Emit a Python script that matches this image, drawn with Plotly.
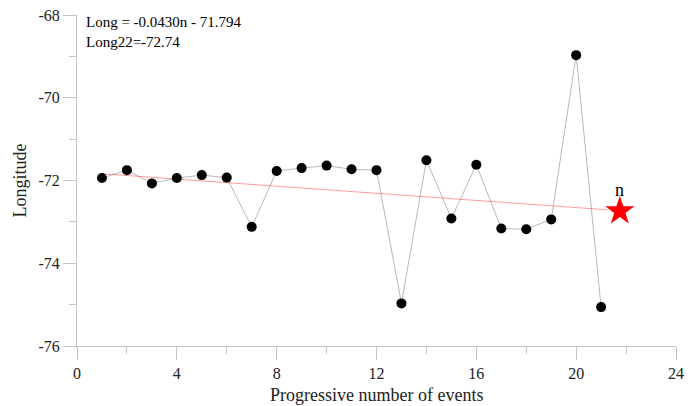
import plotly.graph_objects as go

events = list(range(1, 22))
longitude = [-71.94, -71.75, -72.07, -71.94, -71.87, -71.93, -73.12, -71.77, -71.70, -71.64,
             -71.73, -71.75, -74.97, -71.51, -72.92, -71.62, -73.16, -73.18, -72.94, -68.97, -75.06]

slope = -0.0430
intercept = -71.794
fit_x = [1, 21.25]
fit_y = [slope * v + intercept for v in fit_x]

pred_x = [21.75]
pred_y = [-72.74]

x_ticks = [0, 4, 8, 12, 16, 20, 24]
y_ticks = [-76, -74, -72, -70, -68]
y_tick_text = ["-76", "-74", "-72", "-70", "-68"]

FONT = "Liberation Serif, Times New Roman, serif"
AXIS_COLOR = "#c4c4c4"

fig = go.Figure()
fig.add_trace(go.Scatter(x=events, y=longitude, mode="lines",
                         line=dict(color="#b8b8b8", width=1), showlegend=False, hoverinfo="skip"))
fig.add_trace(go.Scatter(x=fit_x, y=fit_y, mode="lines",
                         line=dict(color="rgba(255,60,60,0.5)", width=1), showlegend=False))
fig.add_trace(go.Scatter(x=events, y=longitude, mode="markers",
                         marker=dict(color="black", size=10), showlegend=False))
fig.add_trace(go.Scatter(x=pred_x, y=pred_y, mode="markers",
                         marker=dict(color="red", size=22, symbol="star", line=dict(width=0)),
                         showlegend=False))

fig.add_annotation(x=pred_x[0], y=pred_y[0], text="n", showarrow=False, yshift=21,
                   font=dict(family=FONT, size=18, color="black"))
fig.add_annotation(xref="paper", yref="paper", x=0.011, y=1.008, xanchor="left", yanchor="top",
                   text="Long = -0.0430n - 71.794<br>Long22=-72.74", showarrow=False, align="left",
                   font=dict(family=FONT, size=15, color="black"))
fig.add_annotation(xref="paper", yref="paper", x=0.5, y=-0.149, xanchor="center", yanchor="middle",
                   text="Progressive number of events", showarrow=False,
                   font=dict(family=FONT, size=18, color="#222"))

fig.update_layout(
    width=691, height=406,
    margin=dict(l=76.5, r=15, t=15, b=60.3, autoexpand=False),
    paper_bgcolor="white", plot_bgcolor="white",
    font=dict(family=FONT, size=16, color="#222"),
    xaxis=dict(range=[0, 24], tickmode="array", tickvals=x_ticks, showgrid=False, zeroline=False,
               automargin=False,
               showline=True, linecolor=AXIS_COLOR, linewidth=1, ticks="outside", ticklen=13,
               tickcolor=AXIS_COLOR, tickfont=dict(family=FONT, size=16),
               minor=dict(dtick=2, tick0=0, ticks="outside", ticklen=7, tickcolor=AXIS_COLOR)),
    yaxis=dict(range=[-76, -68], tickmode="array", tickvals=y_ticks, ticktext=y_tick_text,
               showgrid=False, zeroline=False, automargin=False,
               showline=True, linecolor=AXIS_COLOR, linewidth=1, ticks="outside", ticklen=13,
               tickcolor=AXIS_COLOR, tickfont=dict(family=FONT, size=16),
               minor=dict(dtick=1, tick0=-76, ticks="outside", ticklen=7, tickcolor=AXIS_COLOR),
               title=dict(text="Longitude", font=dict(family=FONT, size=18), standoff=7)),
)

fig.write_html("out.html", config={"displayModeBar": False},
               post_script="document.body.style.margin='0px';document.body.style.overflow='hidden';")
